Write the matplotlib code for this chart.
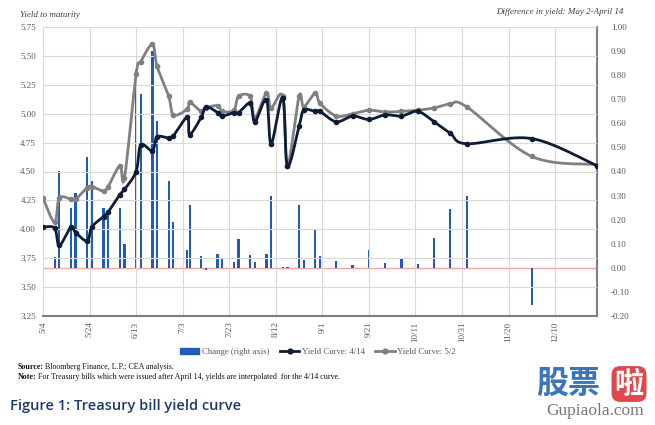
import numpy as np
import matplotlib
matplotlib.use("Agg")
import matplotlib.pyplot as plt
import matplotlib.dates as mdates
from matplotlib.patches import Patch
from matplotlib.lines import Line2D

# ---------------- data ----------------
maturity = ["2023-05-04", "2023-05-09", "2023-05-11", "2023-05-16", "2023-05-18",
            "2023-05-23", "2023-05-25", "2023-05-30", "2023-06-01", "2023-06-06",
            "2023-06-08", "2023-06-13", "2023-06-15", "2023-06-20", "2023-06-22",
            "2023-06-27", "2023-06-29", "2023-07-05", "2023-07-06", "2023-07-11",
            "2023-07-13", "2023-07-18", "2023-07-20", "2023-07-25", "2023-07-27",
            "2023-08-01", "2023-08-03", "2023-08-08", "2023-08-10", "2023-08-15",
            "2023-08-17", "2023-08-22", "2023-08-24", "2023-08-29", "2023-08-31",
            "2023-09-07", "2023-09-14", "2023-09-21", "2023-09-28", "2023-10-05",
            "2023-10-12", "2023-10-19", "2023-10-26", "2023-11-02", "2023-11-30",
            "2023-12-28"]

yield_414 = [4.02, 4.01, 3.86, 4.02, 3.97, 3.90, 4.02, 4.11, 4.15, 4.30,
             4.345, 4.50, 4.73, 4.68, 4.80, 4.79, 4.81, 4.97, 4.82, 4.97,
             5.06, 5.01, 4.98, 5.01, 5.01, 5.09, 4.93, 5.12, 4.74, 5.14,
             4.55, 4.89, 5.03, 5.02, 5.02, 4.93, 4.98, 4.95, 4.99, 4.98,
             5.02, 4.93, 4.83, 4.74, 4.785, 4.55]

yield_52 = [4.27, 4.06, 4.27, 4.26, 4.26, 4.36, 4.37, 4.33, 4.37, 4.55,
            4.445, 5.34, 5.45, 5.60, 5.41, 5.15, 4.99, 5.04, 5.10, 5.02,
            5.05, 5.07, 5.02, 5.03, 5.15, 5.15, 4.96, 5.18, 5.05, 5.15,
            4.55, 5.15, 5.06, 5.18, 5.09, 4.98, 5.00, 5.03, 5.015, 5.02,
            5.03, 5.05, 5.085, 5.06, 4.63, 4.56]

change = [0.25, 0.045, 0.40, 0.25, 0.31, 0.46, 0.36, 0.25, 0.22, 0.25,
          0.10, 0.82, 0.72, 0.90, 0.61, 0.36, 0.19, 0.075, 0.26, 0.05,
          -0.01, 0.057, 0.036, 0.026, 0.12, 0.054, 0.026, 0.058, 0.30, 0.005,
          0.003, 0.26, 0.033, 0.16, 0.05, 0.03, 0.01, 0.072, 0.02, 0.037,
          0.017, 0.123, 0.245, 0.30, -0.153, 0.01]

xtick_dates = ["2023-05-04", "2023-05-24", "2023-06-13", "2023-07-03", "2023-07-23",
               "2023-08-12", "2023-09-01", "2023-09-21", "2023-10-11", "2023-10-31",
               "2023-11-20", "2023-12-10"]
xtick_labels = ["5/4", "5/24", "6/13", "7/3", "7/23", "8/12", "9/1", "9/21",
                "10/11", "10/31", "11/20", "12/10"]
left_ticks = [3.25, 3.50, 3.75, 4.00, 4.25, 4.50, 4.75, 5.00, 5.25, 5.50, 5.75]
right_ticks = [-0.20, -0.10, 0.00, 0.10, 0.20, 0.30, 0.40, 0.50, 0.60, 0.70,
               0.80, 0.90, 1.00]
x_start, x_end = "2023-05-04", "2023-12-28"

# ---------------- styling ----------------
SERIF = "Liberation Serif"
NAVY = "#0d1d38"
GRAY = "#808080"
BLUE = "#1f5cb8"
LABEL = "#595959"


def smooth(xs, ys, n=30):
    """Excel-like smoothed line (cubic Bezier through the data points)."""
    P = np.column_stack([xs, ys]).astype(float)
    Pp = np.vstack([P[0], P, P[-1]])
    t = np.linspace(0, 1, n + 1)[1:, None]
    out = [P[:1]]
    for i in range(len(P) - 1):
        p0, p1, p2, p3 = Pp[i], Pp[i + 1], Pp[i + 2], Pp[i + 3]
        b1 = p1 + (p2 - p0) / 6.0
        b2 = p2 - (p3 - p1) / 6.0
        seg = ((1 - t) ** 3) * p1 + 3 * ((1 - t) ** 2) * t * b1 + \
              3 * (1 - t) * t ** 2 * b2 + t ** 3 * p2
        out.append(seg)
    arr = np.vstack(out)
    return arr[:, 0], arr[:, 1]


x = mdates.datestr2num(maturity)

fig = plt.figure(figsize=(6.55, 4.25), dpi=100)
rect = [43 / 655, 1 - 316 / 425, (597 - 43) / 655, (316 - 27) / 425]
ax = fig.add_axes(rect)
ax2 = ax.twinx()
ax.set_zorder(2)
ax2.set_zorder(1)
ax.patch.set_visible(False)

# bars (right axis)
ax2.axhline(0, color="#f3a3a3", lw=1.0, zorder=1)
ax2.bar(x, change, width=0.95, color=BLUE, edgecolor="none", zorder=2)
ax2.set_ylim(-0.2, 1.0)
ax2.set_yticks(right_ticks)
ax2.set_yticklabels([f"{v:.2f}" for v in right_ticks])

# lines (left axis)
sx, sy = smooth(x, yield_52)
ax.plot(sx, sy, color=GRAY, lw=2.0, solid_capstyle="round", zorder=3)
ax.plot(x, yield_52, ls="none", marker="o", ms=3.0, color=GRAY, zorder=3)
sx, sy = smooth(x, yield_414)
ax.plot(sx, sy, color=NAVY, lw=2.0, solid_capstyle="round", zorder=4)
ax.plot(x, yield_414, ls="none", marker="o", ms=3.0, color=NAVY, zorder=4)

ax.set_ylim(3.25, 5.75)
ax.set_yticks(left_ticks)
ax.set_yticklabels([f"{v:.2f}" for v in left_ticks])
ax.set_xlim(mdates.datestr2num(x_start), mdates.datestr2num(x_end))
ax.set_xticks(mdates.datestr2num(xtick_dates))
ax.set_xticklabels(xtick_labels, rotation=90)

ax.grid(True, color="#d9d9d9", lw=0.8)
ax.set_axisbelow(True)

for a in (ax, ax2):
    for s in ("top", "left"):
        a.spines[s].set_visible(False)
ax.spines["right"].set_visible(False)
ax2.spines["bottom"].set_visible(False)
ax.spines["bottom"].set_color("#7f7f7f")
ax.spines["bottom"].set_linewidth(1.5)
ax2.spines["right"].set_color("#7f7f7f")
ax2.spines["right"].set_linewidth(1.5)

ax.tick_params(axis="both", length=0, labelsize=6.5, labelcolor=LABEL)
ax.tick_params(axis="y", pad=5)
ax.tick_params(axis="x", pad=4)
ax2.tick_params(axis="y", length=0, labelsize=6.5, labelcolor=LABEL, pad=10)
for lab in ax.get_xticklabels() + ax.get_yticklabels() + ax2.get_yticklabels():
    lab.set_fontfamily(SERIF)

# axis titles
fig.text(20 / 655, 1 - 15 / 425, "Yield to maturity", fontsize=6.5,
         family=SERIF, style="italic", color="#404040", va="center", ha="left")
fig.text(623 / 655, 1 - 12 / 425, "Difference in yield: May 2-April 14",
         fontsize=6.5, family=SERIF, style="italic", color="#404040",
         va="center", ha="right")

# legend
handles = [Patch(facecolor=BLUE, edgecolor=BLUE),
           Line2D([], [], color=NAVY, lw=2, marker="o", ms=3.5),
           Line2D([], [], color=GRAY, lw=2, marker="o", ms=3.5)]
labels = ["Change (right axis)", "Yield Curve: 4/14", "Yield Curve: 5/2"]
leg = fig.legend(handles, labels, loc="center",
                 bbox_to_anchor=(318 / 655, 1 - 352 / 425),
                 ncol=3, frameon=False, handlelength=2.2, handleheight=0.6,
                 columnspacing=1.2, handletextpad=0.3,
                 prop={"family": SERIF, "size": 6.3})
for t in leg.get_texts():
    t.set_color(LABEL)


# notes
def two_part(y, bold, rest):
    t1 = fig.text(18 / 655, 1 - y / 425, bold, fontsize=5.8, family=SERIF,
                  weight="bold", va="center", ha="left", color="#111111")
    fig.canvas.draw()
    bb = t1.get_window_extent()
    fig.text(bb.x1 / fig.bbox.width + 0.002, 1 - y / 425, rest, fontsize=5.8,
             family=SERIF, va="center", ha="left", color="#111111")


two_part(367, "Source:", "Bloomberg Finance, L.P.; CEA analysis.")
two_part(377, "Note:", "For Treasury bills which were issued after April 14, "
                       "yields are interpolated  for the 4/14 curve.")

# figure title
fig.text(10 / 655, 1 - 406 / 425, "Figure 1: Treasury bill yield curve",
         fontsize=10.5, family="Open Sans", weight="semibold", color="#1e3a66",
         va="center", ha="left")

# watermark
fig.text(536 / 655, 1 - 384 / 425, "股票", fontsize=23, family="Noto Sans CJK SC",
         weight="bold", color="#3b74b9", va="center", ha="left")
fig.text(629 / 655, 1 - 384 / 425, "啦", fontsize=21, family="Noto Sans CJK SC",
         weight="bold", color="white", va="center", ha="center",
         bbox=dict(boxstyle="round,pad=0.1,rounding_size=0.3", fc="#e0494c", ec="none"))
fig.text(595 / 655, 1 - 411 / 425, "Gupiaola.com", fontsize=12.5, family=SERIF,
         color="#777777", va="center", ha="center")

fig.savefig("out.png", dpi=100)
